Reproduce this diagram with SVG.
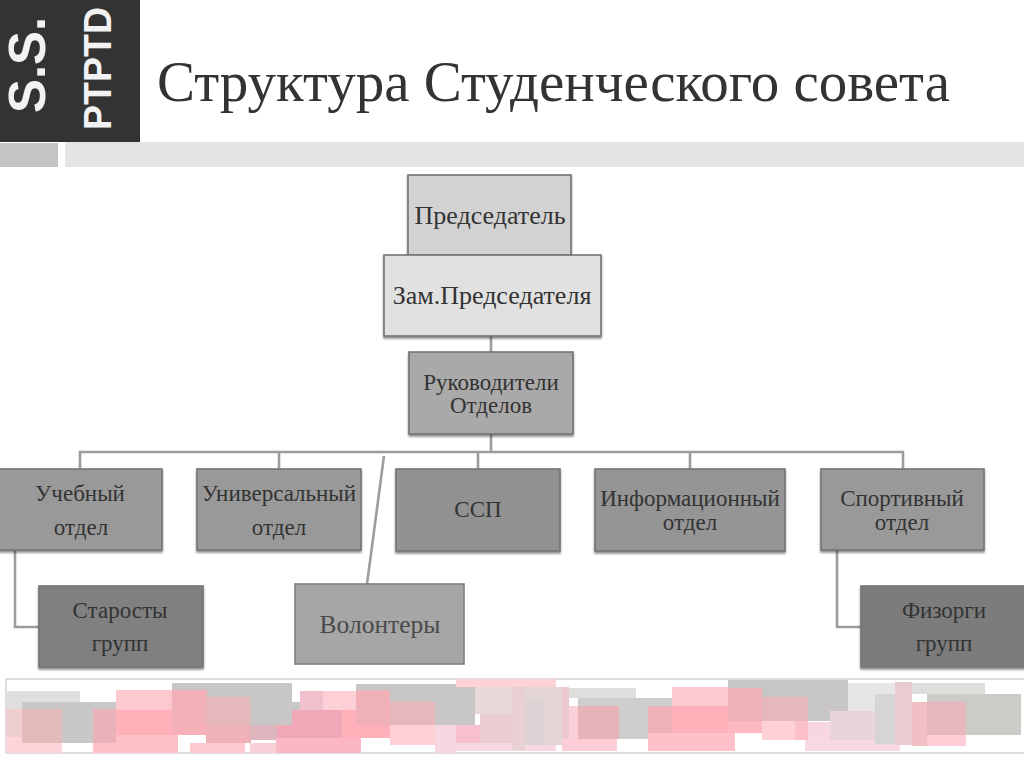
<svg xmlns="http://www.w3.org/2000/svg" width="1024" height="767" viewBox="0 0 1024 767">
<defs>
<filter id="sh" x="-5%" y="-5%" width="110%" height="115%"><feDropShadow dx="0" dy="2" stdDeviation="1.2" flood-color="#000" flood-opacity="0.45"/></filter>
<filter id="soft" x="-1%" y="-5%" width="102%" height="110%"><feGaussianBlur stdDeviation="0.6"/></filter>
</defs>
<style>
.t{font-family:"Liberation Serif",serif;fill:#333;text-anchor:middle;font-size:23px}
.big{font-size:26px}
.box{stroke:#747474;stroke-width:1.6;filter:url(#sh)}
.c{fill:none;stroke:#9c9c9c;stroke-width:2.6}
.h{font-family:"Liberation Sans",sans-serif;font-weight:bold;fill:#f2f2f2}
</style>
<rect width="1024" height="767" fill="#fff"/>
<g id="header">
<rect x="0" y="0" width="140" height="142" fill="#333"/>
<text class="h" font-size="52" transform="translate(45,113) rotate(-90)" textLength="96" lengthAdjust="spacingAndGlyphs">S.S.</text>
<text class="h" font-size="39" transform="translate(111,130) rotate(-90)" textLength="123" lengthAdjust="spacingAndGlyphs">PTPTD</text>
<rect x="0" y="143" width="58" height="24" fill="#c4c4c4"/>
<rect x="65" y="142" width="959" height="25" fill="#e4e4e4"/>
<text x="157" y="101" font-family="'Liberation Serif',serif" font-size="57" fill="#333" textLength="793" lengthAdjust="spacingAndGlyphs">Структура Студенческого совета</text>
</g>
<g id="connectors">
<path class="c" d="M491 336V352M491 434V452M80 469V452H903V469M279 452V469M478 452V469M690 452V469"/>
<path class="c" d="M15 550V627H39M837 550V627H861"/>
<path class="c" d="M384 456L367 584"/>
</g>
<g id="n1"><rect class="box" x="408" y="175" width="163" height="80" fill="#d2d2d2"/><text class="t big" x="490" y="224">Председатель</text></g>
<g id="n2"><rect class="box" x="384" y="255" width="217" height="81" fill="#e1e1e1"/><text class="t big" x="492" y="304">Зам.Председателя</text></g>
<g id="n3"><rect class="box" x="409" y="352" width="164" height="82" fill="#a9a9a9"/><text class="t" x="491" y="390">Руководители</text><text class="t" x="491" y="413">Отделов</text></g>
<g id="n4"><rect class="box" x="-3" y="469" width="165" height="81" fill="#999"/><text class="t" x="80" y="501">Учебный</text><text class="t" x="81" y="535">отдел</text></g>
<g id="n5"><rect class="box" x="197" y="469" width="164" height="81" fill="#999"/><text class="t" x="279" y="501">Универсальный</text><text class="t" x="279" y="535">отдел</text></g>
<g id="n6"><rect class="box" x="396" y="469" width="164" height="82" fill="#919191"/><text class="t" x="478" y="517">ССП</text></g>
<g id="n7"><rect class="box" x="595" y="469" width="190" height="82" fill="#959595"/><text class="t" x="690" y="506">Информационный</text><text class="t" x="690" y="530">отдел</text></g>
<g id="n8"><rect class="box" x="821" y="469" width="163" height="81" fill="#999"/><text class="t" x="902" y="506">Спортивный</text><text class="t" x="902" y="530">отдел</text></g>
<g id="n9"><rect class="box" x="39" y="586" width="164" height="81" fill="#808080"/><text class="t" x="120" y="618">Старосты</text><text class="t" x="120" y="651">групп</text></g>
<g id="n10"><rect class="box" x="295" y="584" width="169" height="80" fill="#a6a6a6" style="stroke:#808080;filter:none"/><text class="t" x="380" y="633" style="fill:#4a4a4a;font-size:25.5px">Волонтеры</text></g>
<g id="n11"><rect class="box" x="861" y="586" width="167" height="81" fill="#7c7c7c"/><text class="t" x="944" y="618">Физорги</text><text class="t" x="944" y="651">групп</text></g>
<g id="band">
<rect x="6" y="679" width="1020" height="74" fill="#fff" stroke="#d4d4d4" stroke-width="1.5"/>
<g filter="url(#soft)">
<rect x="6" y="691" width="74" height="18" fill="#e0dede"/>
<rect x="6" y="709" width="16" height="28" fill="#eeced0"/>
<rect x="6" y="737" width="56" height="16" fill="#fdd5da"/>
<rect x="22" y="702" width="94" height="41" fill="#c9c7c7"/>
<rect x="22" y="709" width="40" height="34" fill="#e4baba"/>
<rect x="93" y="709" width="23" height="34" fill="#eab2b8"/>
<rect x="93" y="743" width="85" height="10" fill="#ffc0c8"/>
<rect x="116" y="690" width="56" height="20" fill="#fdc8d0"/>
<rect x="116" y="710" width="56" height="25" fill="#ffb0b8"/>
<rect x="116" y="735" width="62" height="18" fill="#ffc0c8"/>
<rect x="172" y="683" width="120" height="42" fill="#c8c6c6"/>
<rect x="172" y="690" width="35" height="35" fill="#f2b0b8"/>
<rect x="207" y="697" width="43" height="28" fill="#e6b8bc"/>
<rect x="292" y="702" width="8" height="23" fill="#c8c6c6"/>
<rect x="172" y="725" width="34" height="10" fill="#f8b0b8"/>
<rect x="206" y="725" width="45" height="18" fill="#f0b0b8"/>
<rect x="190" y="743" width="55" height="10" fill="#fdc8d0"/>
<rect x="250" y="725" width="28" height="15" fill="#ddb5bd"/>
<rect x="250" y="743" width="26" height="10" fill="#f8d0d8"/>
<rect x="277" y="725" width="23" height="15" fill="#f0a8b8"/>
<rect x="300" y="691" width="23" height="19" fill="#f0c0cc"/>
<rect x="323" y="691" width="33" height="19" fill="#fdd0d8"/>
<rect x="292" y="710" width="50" height="30" fill="#f0a8b8"/>
<rect x="342" y="710" width="14" height="25" fill="#ffb0b8"/>
<rect x="276" y="738" width="85" height="15" fill="#fbb8c4"/>
<rect x="356" y="684" width="119" height="41" fill="#c8c6c6"/>
<rect x="356" y="690" width="34" height="35" fill="#efb0b8"/>
<rect x="390" y="702" width="45" height="23" fill="#e4b8bc"/>
<rect x="342" y="725" width="48" height="13" fill="#ffb0b8"/>
<rect x="390" y="725" width="45" height="20" fill="#ffd0d6"/>
<rect x="435" y="725" width="21" height="28" fill="#f8d8e0"/>
<rect x="456" y="725" width="24" height="20" fill="#f8c0cc"/>
<rect x="435" y="743" width="121" height="8" fill="#f8d8e0"/>
<rect x="456" y="679" width="100" height="8" fill="#ffd2d8"/>
<rect x="475" y="687" width="37" height="27" fill="#e8d8da"/>
<rect x="480" y="714" width="32" height="29" fill="#e8ccd0"/>
<rect x="512" y="687" width="13" height="63" fill="#e8d0d4"/>
<rect x="525" y="687" width="37" height="58" fill="#e4d6d6"/>
<rect x="525" y="698" width="20" height="47" fill="#dcd4d4"/>
<rect x="562" y="687" width="7" height="63" fill="#ebc8cc"/>
<rect x="569" y="688" width="67" height="10" fill="#e0dedc"/>
<rect x="578" y="698" width="94" height="41" fill="#d0cecc"/>
<rect x="578" y="706" width="41" height="33" fill="#e6b4b8"/>
<rect x="569" y="706" width="9" height="33" fill="#fcd0d8"/>
<rect x="562" y="739" width="55" height="12" fill="#fdccd4"/>
<rect x="648" y="706" width="24" height="33" fill="#f0b0b8"/>
<rect x="672" y="687" width="58" height="19" fill="#fdc8d0"/>
<rect x="672" y="706" width="63" height="27" fill="#ffb0b8"/>
<rect x="648" y="733" width="87" height="18" fill="#ffc0c8"/>
<rect x="728" y="680" width="120" height="41" fill="#c8c6c4"/>
<rect x="728" y="688" width="34" height="33" fill="#efb0b8"/>
<rect x="728" y="721" width="34" height="12" fill="#fdb8c0"/>
<rect x="762" y="697" width="46" height="24" fill="#e4b8bc"/>
<rect x="762" y="721" width="33" height="19" fill="#ffd0d6"/>
<rect x="795" y="721" width="13" height="19" fill="#fcc0cc"/>
<rect x="808" y="722" width="22" height="21" fill="#f8d8e0"/>
<rect x="830" y="711" width="45" height="29" fill="#e8d4da"/>
<rect x="805" y="740" width="95" height="11" fill="#f8d8e2"/>
<rect x="848" y="683" width="47" height="28" fill="#e6e6e6"/>
<rect x="875" y="694" width="20" height="50" fill="#d6d4d4"/>
<rect x="895" y="682" width="17" height="63" fill="#e8ccd0"/>
<rect x="912" y="683" width="73" height="11" fill="#e0dedc"/>
<rect x="912" y="702" width="15" height="44" fill="#f0c0c4"/>
<rect x="927" y="694" width="94" height="41" fill="#cdcbc8"/>
<rect x="927" y="702" width="39" height="33" fill="#e4b8bc"/>
<rect x="927" y="735" width="39" height="11" fill="#fdccd4"/>
</g>
</g>
</svg>
